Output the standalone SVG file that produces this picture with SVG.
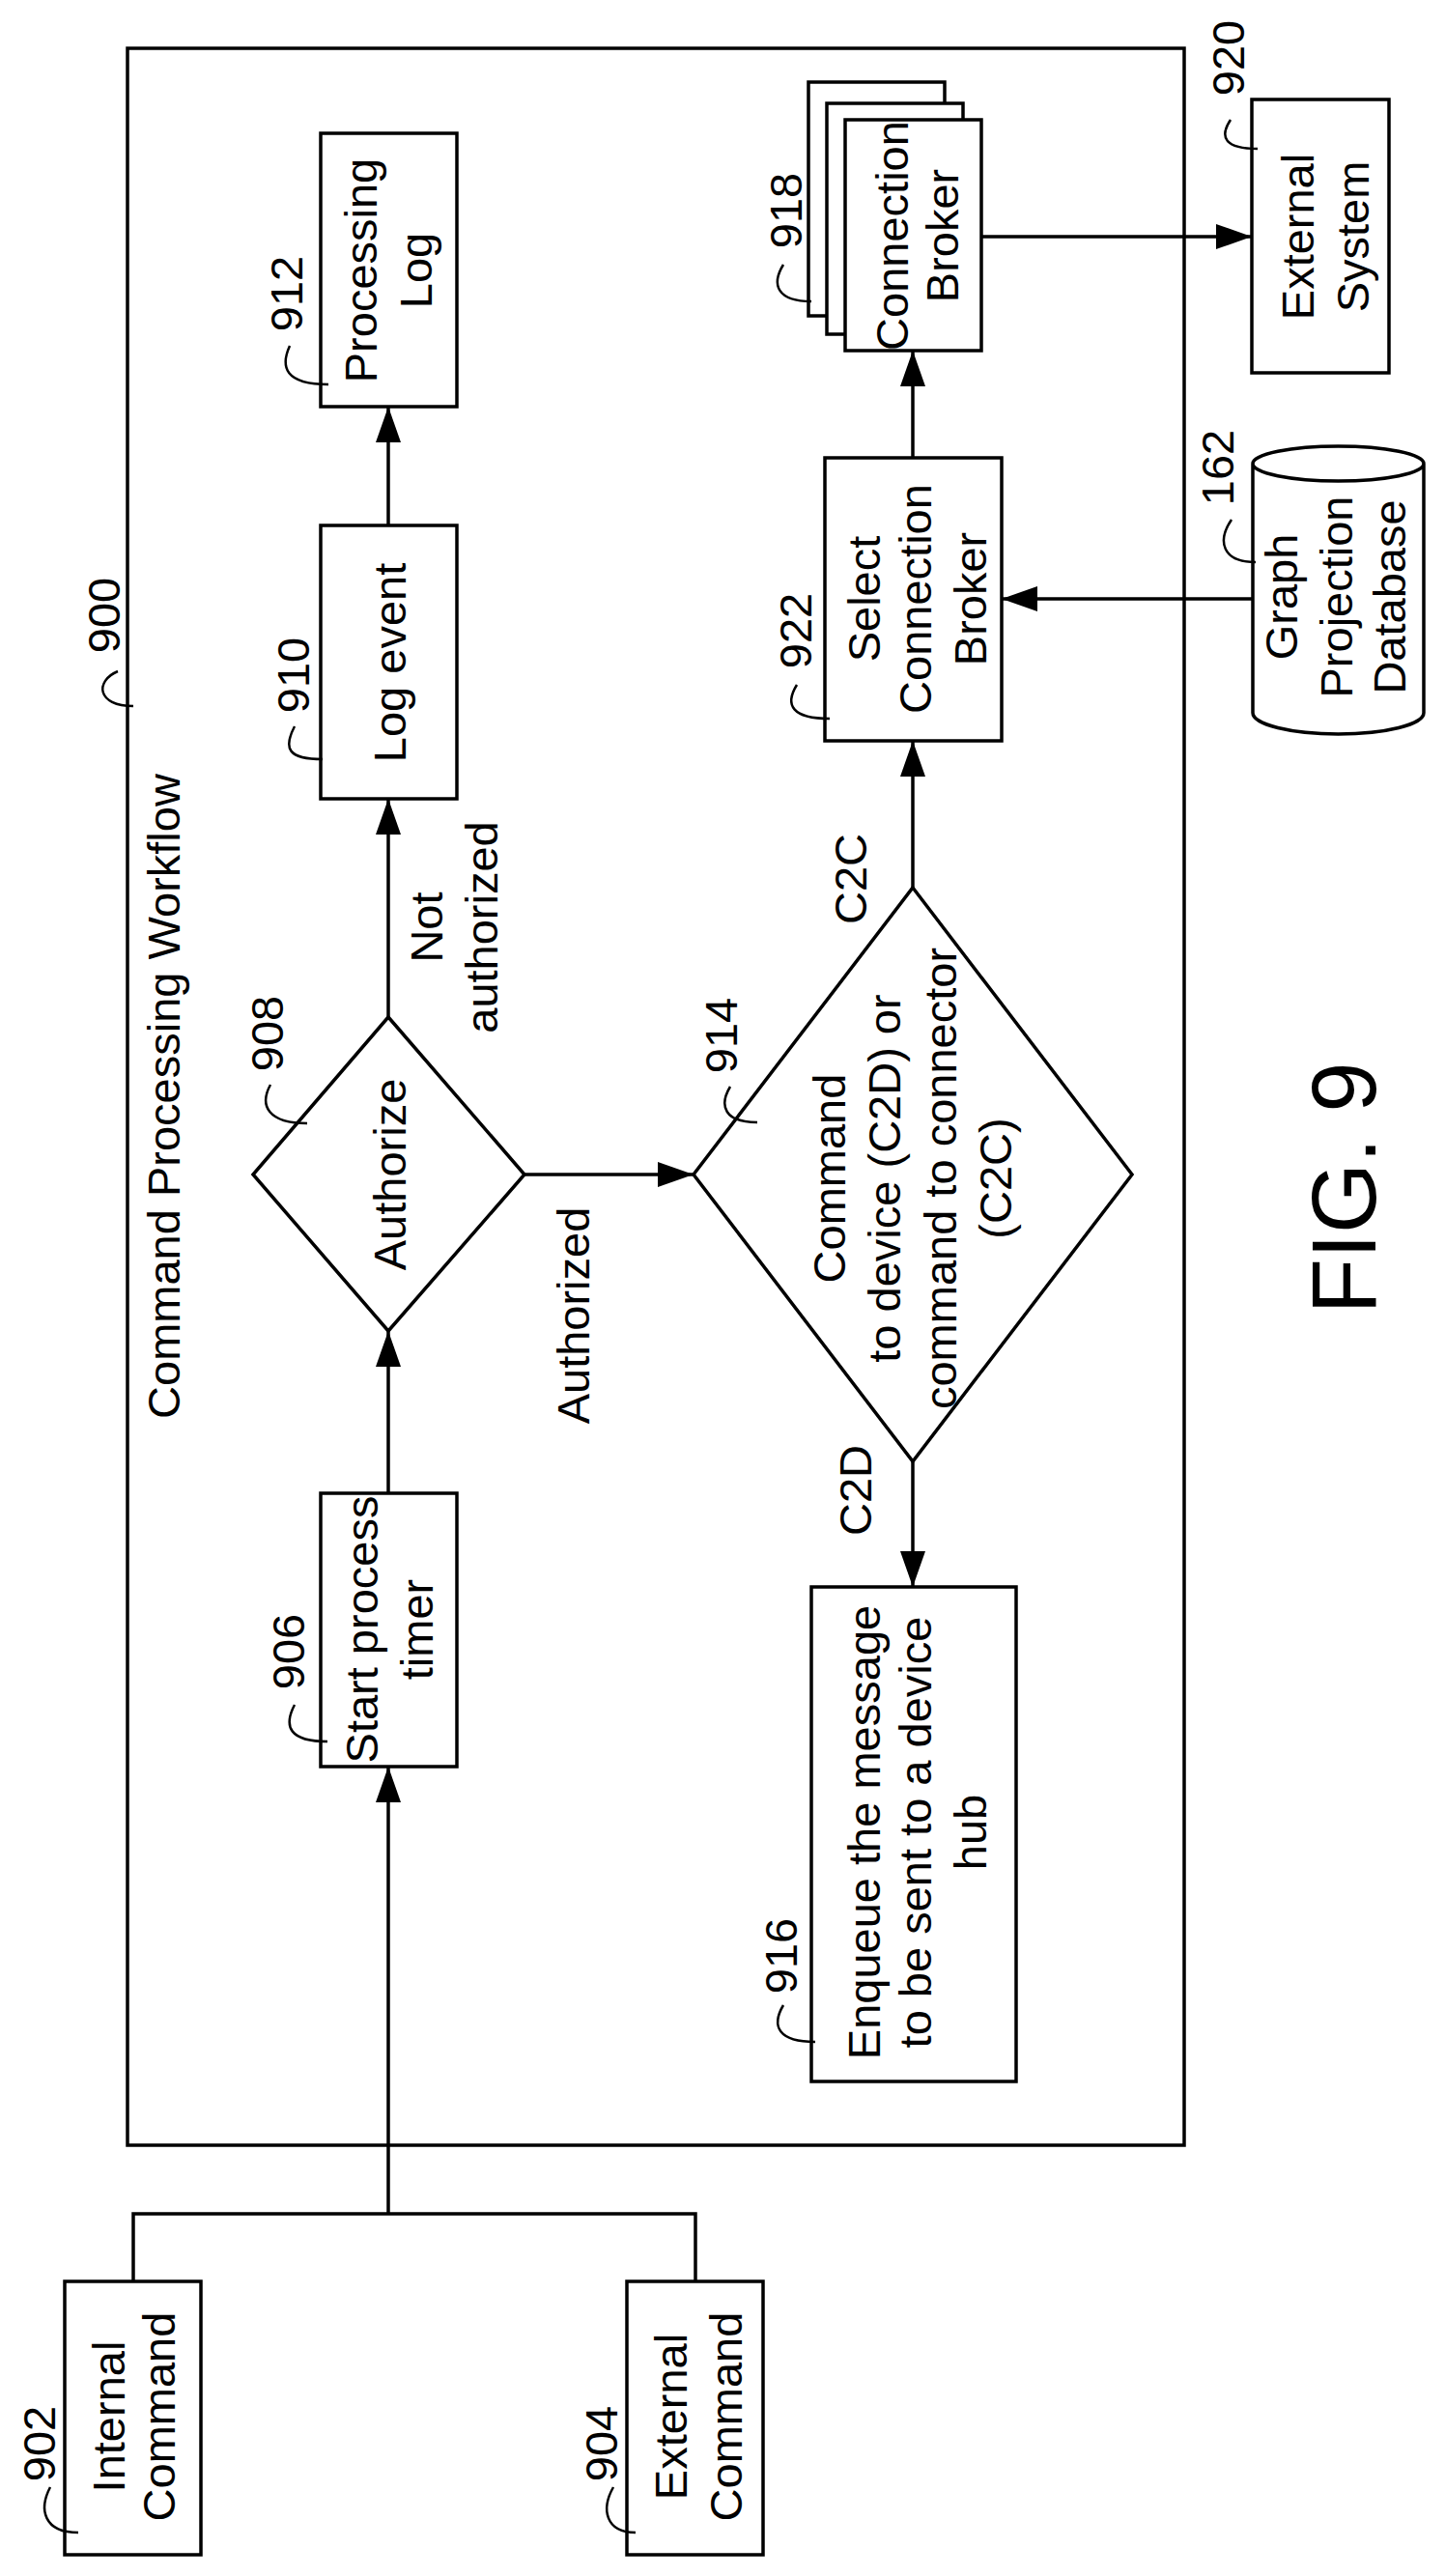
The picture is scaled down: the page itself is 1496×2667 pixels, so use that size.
<svg xmlns="http://www.w3.org/2000/svg" width="1496" height="2667" viewBox="0 0 1496 2667">
<style>
.b{fill:#fff;stroke:#000;stroke-width:3.5}
.t{font-family:"Liberation Sans",Arial,sans-serif;font-size:47px;fill:#000;text-anchor:middle}
.c{fill:none;stroke:#000;stroke-width:3.5}
.l{fill:none;stroke:#000;stroke-width:2.5}
</style>
<defs>
<marker id="ah" markerUnits="userSpaceOnUse" markerWidth="38" markerHeight="26" refX="37" refY="13" orient="auto"><path d="M0,0 L37,13 L0,26 Z" fill="#000"/></marker>
</defs>
<rect width="1496" height="2667" fill="#fff"/>
<g id="n900">
<rect x="132" y="50" width="1094" height="2171" class="c"/>
<text class="t" x="124" y="637" transform="rotate(-90 124 637)">900</text>
<path class="l" d="M122,695 C98,705 100,731 138,731"/>
<text class="t" x="186" y="1135" transform="rotate(-90 186 1135)">Command Processing Workflow</text>
</g>
<g id="connectors">
<path class="c" d="M402,544 V421" marker-end="url(#ah)"/>
<path class="c" d="M402,1053 V827" marker-end="url(#ah)"/>
<path class="c" d="M402,1546 V1378" marker-end="url(#ah)"/>
<path class="c" d="M402,2292 V1829" marker-end="url(#ah)"/>
<path class="c" d="M138,2362 V2292 H720 V2362"/>
<path class="c" d="M543,1216 H718" marker-end="url(#ah)"/>
<path class="c" d="M945,919 V767" marker-end="url(#ah)"/>
<path class="c" d="M945,474 V363" marker-end="url(#ah)"/>
<path class="c" d="M945,1513 V1643" marker-end="url(#ah)"/>
<path class="c" d="M1016,245 H1296" marker-end="url(#ah)"/>
<path class="c" d="M1297,620 H1037" marker-end="url(#ah)"/>
<text class="t" x="458" y="960" transform="rotate(-90 458 960)">Not</text>
<text class="t" x="515" y="960" transform="rotate(-90 515 960)">authorized</text>
<text class="t" x="610" y="1362" transform="rotate(-90 610 1362)">Authorized</text>
<text class="t" x="897" y="910" transform="rotate(-90 897 910)">C2C</text>
<text class="t" x="902" y="1543" transform="rotate(-90 902 1543)">C2D</text>
</g>
<g id="n912">
<rect x="332" y="138" width="141" height="283" class="b"/>
<text class="t" x="390" y="280" transform="rotate(-90 390 280)">Processing</text>
<text class="t" x="447" y="280" transform="rotate(-90 447 280)">Log</text>
<text class="t" x="313" y="304" transform="rotate(-90 313 304)">912</text>
<path class="l" d="M300,358 C290,380 295,398 340,398"/>
</g>
<g id="n910">
<rect x="332" y="544" width="141" height="283" class="b"/>
<text class="t" x="420" y="686" transform="rotate(-90 420 686)">Log event</text>
<text class="t" x="320" y="699" transform="rotate(-90 320 699)">910</text>
<path class="l" d="M305,752 C293,775 298,786 334,786"/>
</g>
<g id="n908">
<path d="M402,1053 L543,1216 L402,1378 L262,1216 Z" class="b" stroke-width="3"/>
<text class="t" x="420" y="1216" transform="rotate(-90 420 1216)">Authorize</text>
<text class="t" x="293" y="1070" transform="rotate(-90 293 1070)">908</text>
<path class="l" d="M280,1123 C268,1145 278,1163 318,1163"/>
</g>
<g id="n906">
<rect x="332" y="1546" width="141" height="283" class="b"/>
<text class="t" x="391" y="1687" transform="rotate(-90 391 1687)">Start process</text>
<text class="t" x="448" y="1687" transform="rotate(-90 448 1687)">timer</text>
<text class="t" x="315" y="1710" transform="rotate(-90 315 1710)">906</text>
<path class="l" d="M305,1765 C293,1788 300,1803 339,1803"/>
</g>
<g id="n914">
<path d="M945,919 L1172,1216 L945,1513 L718,1216 Z" class="b" stroke-width="3"/>
<text class="t" x="875" y="1220" transform="rotate(-90 875 1220)">Command</text>
<text class="t" x="932" y="1220" transform="rotate(-90 932 1220)">to device (C2D) or</text>
<text class="t" x="990" y="1220" transform="rotate(-90 990 1220)">command to connector</text>
<text class="t" x="1047" y="1220" transform="rotate(-90 1047 1220)">(C2C)</text>
<text class="t" x="763" y="1072" transform="rotate(-90 763 1072)">914</text>
<path class="l" d="M756,1125 C744,1145 750,1162 784,1162"/>
</g>
<g id="n916">
<rect x="840" y="1643" width="212" height="512" class="b"/>
<text class="t" x="911" y="1897" transform="rotate(-90 911 1897)">Enqueue the message</text>
<text class="t" x="964" y="1897" transform="rotate(-90 964 1897)">to be sent to a device</text>
<text class="t" x="1021" y="1897" transform="rotate(-90 1021 1897)">hub</text>
<text class="t" x="825" y="2025" transform="rotate(-90 825 2025)">916</text>
<path class="l" d="M811,2076 C798,2098 806,2114 844,2114"/>
</g>
<g id="n922">
<rect x="854" y="474" width="183" height="293" class="b"/>
<text class="t" x="911" y="620" transform="rotate(-90 911 620)">Select</text>
<text class="t" x="964" y="620" transform="rotate(-90 964 620)">Connection</text>
<text class="t" x="1021" y="620" transform="rotate(-90 1021 620)">Broker</text>
<text class="t" x="840" y="653" transform="rotate(-90 840 653)">922</text>
<path class="l" d="M825,709 C812,730 820,744 859,744"/>
</g>
<g id="n918">
<rect x="837" y="85" width="141" height="242" class="b"/>
<rect x="856" y="107" width="141" height="239" class="b"/>
<rect x="875" y="124" width="141" height="239" class="b"/>
<text class="t" x="940" y="244" transform="rotate(-90 940 244)">Connection</text>
<text class="t" x="992" y="244" transform="rotate(-90 992 244)">Broker</text>
<text class="t" x="830" y="218" transform="rotate(-90 830 218)">918</text>
<path class="l" d="M811,274 C798,295 805,312 840,312"/>
</g>
<g id="n920">
<rect x="1296" y="103" width="142" height="283" class="b"/>
<text class="t" x="1360" y="245" transform="rotate(-90 1360 245)">External</text>
<text class="t" x="1417" y="245" transform="rotate(-90 1417 245)">System</text>
<text class="t" x="1288" y="60" transform="rotate(-90 1288 60)">920</text>
<path class="l" d="M1274,124 C1262,142 1268,154 1302,154"/>
</g>
<g id="n162">
<path class="b" d="M1297,480 V738 A88.5,22 0 0 0 1474,738 V480 A88.5,18 0 0 0 1297,480 A88.5,18 0 0 0 1474,480"/>
<text class="t" x="1343" y="618" transform="rotate(-90 1343 618)">Graph</text>
<text class="t" x="1400" y="618" transform="rotate(-90 1400 618)">Projection</text>
<text class="t" x="1455" y="618" transform="rotate(-90 1455 618)">Database</text>
<text class="t" x="1277" y="484" transform="rotate(-90 1277 484)">162</text>
<path class="l" d="M1275,538 C1260,560 1265,582 1300,582"/>
</g>
<g id="n902">
<rect x="67" y="2362" width="141" height="283" class="b"/>
<text class="t" x="129" y="2502" transform="rotate(-90 129 2502)">Internal</text>
<text class="t" x="181" y="2502" transform="rotate(-90 181 2502)">Command</text>
<text class="t" x="57" y="2530" transform="rotate(-90 57 2530)">902</text>
<path class="l" d="M52,2575 C40,2598 45,2622 81,2622"/>
</g>
<g id="n904">
<rect x="649" y="2362" width="141" height="283" class="b"/>
<text class="t" x="711" y="2502" transform="rotate(-90 711 2502)">External</text>
<text class="t" x="768" y="2502" transform="rotate(-90 768 2502)">Command</text>
<text class="t" x="639" y="2530" transform="rotate(-90 639 2530)">904</text>
<path class="l" d="M635,2575 C622,2598 627,2622 658,2622"/>
</g>
<text class="t" x="1424" y="1230" style="font-size:94px" transform="rotate(-90 1424 1230)">FIG. 9</text>
</svg>
